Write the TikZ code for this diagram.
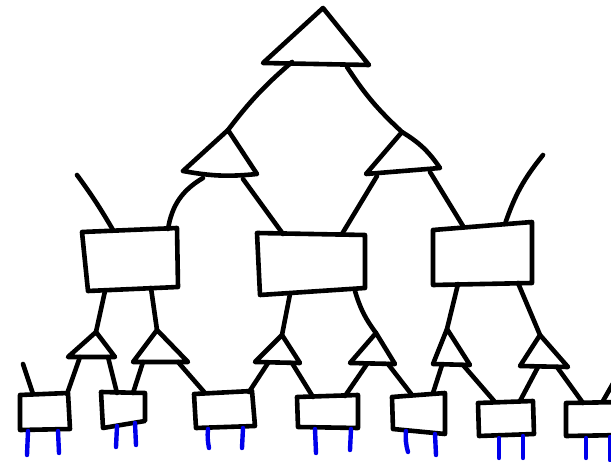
\documentclass[tikz,border=0pt]{standalone}
\begin{document}
\begin{tikzpicture}[x=1pt,y=-1pt,
  ln/.style={line width=4.6pt,line cap=round,line join=round,black},
  leg/.style={line width=4.4pt,line cap=round,color={rgb,255:red,0;green,0;blue,235}}]
\useasboundingbox (0,0) rectangle (611,462);
\clip (0,0) rectangle (611,462);
% ---------- coordinates ----------
% top triangle
\coordinate (ta) at (323,8); \coordinate (tl) at (263,63); \coordinate (tr) at (369,65);
\coordinate (tlo) at (292,62); \coordinate (tro) at (347,67);
% middle triangles
\coordinate (mla) at (228,130); \coordinate (mll) at (183,171); \coordinate (mlr) at (257,174);
\coordinate (mra) at (402,132); \coordinate (mrl) at (366,174); \coordinate (mrr) at (440,168);
% big boxes
\coordinate (lb1) at (82,232); \coordinate (lb2) at (177,228); \coordinate (lb3) at (178,287); \coordinate (lb4) at (88,291);
\coordinate (mb1) at (257,233); \coordinate (mb2) at (365,235); \coordinate (mb3) at (365,288); \coordinate (mb4) at (260,295);
\coordinate (rb1) at (433,230); \coordinate (rb2) at (532,222); \coordinate (rb3) at (532,283); \coordinate (rb4) at (433,285);
% small triangles
\coordinate (t1a) at (96,332);  \coordinate (t1l) at (68,357);  \coordinate (t1r) at (115,357);
\coordinate (t2a) at (157,330); \coordinate (t2l) at (133,362); \coordinate (t2r) at (188,362);
\coordinate (t3a) at (282,335); \coordinate (t3l) at (255,362); \coordinate (t3r) at (300,363);
\coordinate (t4a) at (376,333); \coordinate (t4l) at (350,363); \coordinate (t4r) at (395,364);
\coordinate (t5a) at (447,329); \coordinate (t5l) at (433,364); \coordinate (t5r) at (470,365);
\coordinate (t6a) at (540,335); \coordinate (t6l) at (520,366); \coordinate (t6r) at (568,367);
% small boxes
\coordinate (b11) at (20,395);  \coordinate (b12) at (68,393);  \coordinate (b13) at (70,429);  \coordinate (b14) at (20,430);
\coordinate (b21) at (101,392); \coordinate (b22) at (145,393); \coordinate (b23) at (145,421); \coordinate (b24) at (103,428);
\coordinate (b31) at (194,394); \coordinate (b32) at (252,391); \coordinate (b33) at (255,426); \coordinate (b34) at (196,428);
\coordinate (b41) at (297,397); \coordinate (b42) at (358,395); \coordinate (b43) at (358,428); \coordinate (b44) at (298,427);
\coordinate (b51) at (392,397); \coordinate (b52) at (445,393); \coordinate (b53) at (445,434); \coordinate (b54) at (393,429);
\coordinate (b61) at (478,403); \coordinate (b62) at (533,401); \coordinate (b63) at (534,434); \coordinate (b64) at (479,436);
\coordinate (b71) at (566,403); \coordinate (b72) at (625,402); \coordinate (b73) at (625,435); \coordinate (b74) at (566,436);
% ---------- shapes ----------
\draw[ln] (tl) -- (ta) -- (tr) -- cycle;
\draw[ln] (mll) -- (mla) -- (mlr) to[bend left=8] (mll);
\draw[ln] (mrl) -- (mra) to[bend left=12] (mrr) -- cycle;
\draw[ln] (lb1) -- (lb2) -- (lb3) -- (lb4) -- cycle;
\draw[ln] (mb1) -- (mb2) -- (mb3) -- (mb4) -- cycle;
\draw[ln] (rb1) -- (rb2) -- (rb3) -- (rb4) -- cycle;
\foreach \t in {t1,t2,t3,t4,t5,t6}
  \draw[ln] (\t l) -- (\t a) -- (\t r) -- cycle;
\foreach \b in {b1,b2,b3,b4,b5,b6,b7}
  \draw[ln] (\b1) -- (\b2) -- (\b3) -- (\b4) -- cycle;
% ---------- connectors ----------
\coordinate (mlo1) at (203,178); \coordinate (mlo2) at (243,179);
\coordinate (mro1) at (377,176); \coordinate (mro2) at (430,172);
\draw[ln] (tlo) to[bend right=6] (mla);
\draw[ln] (tro) to[bend right=7] (mra);
\draw[ln] (mlo1) to[bend right=25] (168,229);
\draw[ln] (mlo2) -- (283,234);
\draw[ln] (mro1) -- (342,234);
\draw[ln] (mro2) -- (463,226);
% dangling inputs
\coordinate (d1) at (77,175); \coordinate (d2) at (543,155);
\coordinate (d3) at (23,364); \coordinate (d4) at (615,380);
\draw[ln] (113,230) to[bend right=3] (d1);
\draw[ln] (505,224) to[bend left=10] (d2);
\draw[ln] (33,394) -- (d3);
\draw[ln] (603,401) -- (d4);
% big boxes to small triangles
\draw[ln] (105,291) -- (t1a);
\draw[ln] (151,288) -- (t2a);
\draw[ln] (290,294) -- (t3a);
\draw[ln] (355,291) to[bend right=10] (t4a);
\draw[ln] (458,284) -- (t5a);
\draw[ln] (518,283) -- (t6a);
% small triangles to small boxes
\draw[ln] (80,357) -- (67,394);
\draw[ln] (108,357) -- (117,393);
\draw[ln] (143,362) -- (133,393);
\draw[ln] (178,362) -- (205,393);
\draw[ln] (268,363) -- (249,392);
\draw[ln] (292,363) -- (313,397);
\draw[ln] (367,364) -- (345,396);
\draw[ln] (388,364) -- (412,395);
\draw[ln] (442,365) -- (433,393);
\draw[ln] (463,365) -- (495,402);
\draw[ln] (538,367) -- (520,401);
\draw[ln] (557,367) -- (583,403);
% ---------- blue legs ----------
\draw[leg] (28,431) -- (27,455);  \draw[leg] (58,431) -- (59,453);
\draw[leg] (117,426) -- (116,447); \draw[leg] (135,423) -- (136,445);
\draw[leg] (208,429) to[bend right=8] (209,448); \draw[leg] (243,428) -- (242,448);
\draw[leg] (315,429) -- (316,453); \draw[leg] (351,429) -- (350,450);
\draw[leg] (406,431) to[bend right=10] (408,452); \draw[leg] (435,434) -- (436,455);
\draw[leg] (499,438) -- (499,458); \draw[leg] (523,436) -- (523,458);
\draw[leg] (586,438) -- (586,458); \draw[leg] (610,437) -- (610,460);
\end{tikzpicture}
\end{document}
